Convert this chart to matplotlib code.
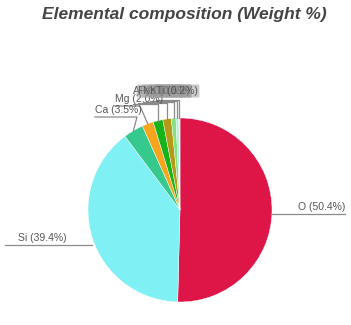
import matplotlib
matplotlib.use("Agg")
import matplotlib.pyplot as plt
import numpy as np

elements = ["O", "Si", "Ca", "Mg", "Al", "Fe", "Na", "K", "Ti"]
weights = [50.4, 39.4, 3.5, 2.0, 1.7, 1.5, 0.8, 0.5, 0.2]
colors = ["#DE1648", "#7FF0F4", "#36C98E", "#F5A51E", "#17B31A",
          "#B39A17", "#86E07E", "#A8F0DA", "#E8F4C8"]
title = "Elemental composition (Weight %)"

W, H = 351, 325
fig = plt.figure(figsize=(W / 100, H / 100), dpi=100)
ax = fig.add_axes([0, 0, 1, 1])

def Y(y):
    return H - y

cx, cy, R = 180, 210, 92
wedges, _ = ax.pie(weights, colors=colors, startangle=90, counterclock=False,
                   center=(cx, Y(cy)), radius=R, frame=True,
                   wedgeprops=dict(edgecolor="white", linewidth=0.3))
ax.set_xlim(0, W)
ax.set_ylim(0, H)
ax.set_aspect("auto")
ax.axis("off")

fig.text(0.525, 1 - 14 / H, title, ha="center", va="center",
         fontsize=12.5, fontweight="bold", fontstyle="italic",
         color="#444444", family="Liberation Sans")

lc = "#8a8a8a"
tc = "#555555"
fs = 7.5
fam = "Liberation Sans"

total = sum(weights)
cum = np.cumsum([0] + weights)
mids = [(cum[i] + cum[i + 1]) / 2 / total * 360 for i in range(len(weights))]

def anchor(theta):
    t = np.deg2rad(theta)
    return cx + R * np.sin(t), cy - R * np.cos(t)

def lbl(i):
    return f"{elements[i]} ({weights[i]:.1f}%)"

# O label (right)
ax_, ay_ = anchor(mids[0])
ax.plot([ax_, 345], [Y(ay_ + 3), Y(ay_ + 3)], color=lc, lw=0.9)
ax.text(345, Y(ay_ - 4), lbl(0), ha="right", va="center", fontsize=fs,
        color=tc, family=fam)
# Si label (left)
ax_, ay_ = anchor(mids[1])
ax.plot([5, ax_], [Y(ay_ + 7), Y(ay_ + 7)], color=lc, lw=0.9)
ax.text(18, Y(ay_), lbl(1), ha="left", va="center", fontsize=fs,
        color=tc, family=fam)

# small slices: label left x, label center y, underline end x
layout = {2: (95, 110, 137), 3: (115, 99, 140), 4: (133, 91, 150),
          5: (138, 91, 157), 6: (143, 91, 165), 7: (150, 91, 172),
          8: (156, 91, 178)}
for i, (lx, ly, ex) in layout.items():
    px, py = anchor(mids[i])
    uy = ly + 7
    if i in (2, 3):
        ax.plot([px, ex, lx], [Y(py), Y(uy), Y(uy)], color=lc, lw=0.9)
    else:
        ax.plot([px, px, lx], [Y(py), Y(uy + 2 + (8 - i)), Y(uy + 2 + (8 - i))],
                color=lc, lw=0.9)
    bbox = None
    if i >= 5:
        bbox = dict(boxstyle="round,pad=0.15", fc="#9a9a9a", ec="none", alpha=0.5)
    ax.text(lx, Y(ly), lbl(i), ha="left", va="center", fontsize=fs,
            color=tc, family=fam, bbox=bbox)

fig.savefig("out.png", dpi=100, facecolor="white")
